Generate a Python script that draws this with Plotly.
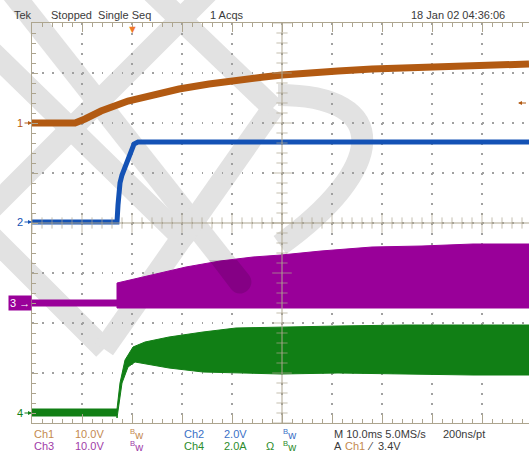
import numpy as np
import plotly.graph_objects as go

# ── Waveform data (x in divisions from left edge, y in divisions from centre) ──
CH1_X = [0, 0.86, 1.06, 1.38, 1.92, 2.40, 2.94, 3.54, 4.08, 4.64, 5.00, 5.44, 6.12, 6.80, 7.46, 8.14, 8.82, 9.94]
CH1_Y = [2.00, 2.00, 2.08, 2.24, 2.44, 2.56, 2.68, 2.78, 2.86, 2.92, 2.96, 2.98, 3.04, 3.08, 3.10, 3.14, 3.16, 3.18]

CH2_X = [0, 1.70, 1.72, 1.76, 1.80, 1.88, 1.96, 2.04, 2.12, 9.94]
CH2_Y = [0.02, 0.02, 0.36, 0.80, 0.96, 1.16, 1.42, 1.58, 1.62, 1.62]

CH3_TOP_X = [0, 1.70, 1.70, 2.40, 3.08, 3.76, 4.42, 4.98, 5.78, 6.80, 7.80, 8.82, 9.94]
CH3_TOP_Y = [-1.54, -1.54, -1.20, -1.04, -0.88, -0.76, -0.68, -0.64, -0.56, -0.48, -0.46, -0.42, -0.42]
CH3_BOT_X = [0, 1.70, 1.70, 9.94]
CH3_BOT_Y = [-1.66, -1.66, -1.70, -1.70]

CH4_TOP_X = [0, 1.70, 1.70, 1.76, 1.86, 2.02, 2.26, 2.74, 3.42, 4.08, 4.98, 6.12, 7.46, 9.94]
CH4_TOP_Y = [-3.72, -3.72, -3.72, -3.20, -2.74, -2.48, -2.38, -2.28, -2.18, -2.10, -2.08, -2.06, -2.04, -2.04]
CH4_BOT_X = [0, 1.70, 1.70, 1.80, 1.92, 2.06, 2.40, 2.74, 3.42, 4.08, 4.98, 6.12, 7.46, 8.82, 9.94]
CH4_BOT_Y = [-3.86, -3.86, -3.90, -3.20, -2.88, -2.78, -2.84, -2.90, -2.98, -3.00, -3.02, -3.00, -3.02, -3.04, -3.04]

CH_LEVELS = {"1": 2.0, "2": 0.02, "3": -1.6, "4": -3.8}
TRIG_X = 2.0
TRIG_LEVEL = 2.4

COLORS = {
    "ch1": "#B25A12", "ch2": "#1452B5", "ch3": "#990099", "ch4": "#117F15",
    "ch1_txt": "#C48A50", "ch2_txt": "#3A6FC6", "ch3_txt": "#A03CA8", "ch4_txt": "#2C8C2C",
    "grat": "#ADA58F", "grid": "#A0A0A0", "text": "#3A3A3A", "trig": "#F07828",
    "wm": "#E2E2E2", "wm_dark": "rgba(0,0,0,0.13)",
}
FONT = "Liberation Sans Narrow, Liberation Sans, Arial, sans-serif"

W, H = 529, 459
L, T, B = 32, 23, 36
PW, PH = W - L, H - T - B


def pp(px, py):
    """pixel -> paper coords"""
    return (px - L) / PW, (H - B - py) / PH


fig = go.Figure()

# ── Traces ──
fig.add_trace(go.Scatter(x=CH1_X, y=CH1_Y, mode="lines",
                         line=dict(color=COLORS["ch1"], width=7), hoverinfo="skip"))
fig.add_trace(go.Scatter(x=CH2_X, y=CH2_Y, mode="lines",
                         line=dict(color=COLORS["ch2"], width=5), hoverinfo="skip"))
for tx, ty, bx, by, c in [(CH3_TOP_X, CH3_TOP_Y, CH3_BOT_X, CH3_BOT_Y, COLORS["ch3"]),
                          (CH4_TOP_X, CH4_TOP_Y, CH4_BOT_X, CH4_BOT_Y, COLORS["ch4"])]:
    fig.add_trace(go.Scatter(x=tx + bx[::-1], y=ty + by[::-1], mode="lines",
                             fill="toself", fillcolor=c,
                             line=dict(color=c, width=1), hoverinfo="skip"))

# ── Centre cross ticks ──
xs = np.round(np.arange(0, 9.95, 0.2), 2)
ys = np.round(np.arange(-4, 4.01, 0.2), 2)
fig.add_trace(go.Scatter(
    x=xs, y=[0] * len(xs), mode="markers", hoverinfo="skip",
    marker=dict(symbol="line-ns", size=[14 if abs(v - round(v)) < 1e-6 else 8 for v in xs],
                line=dict(color=COLORS["grat"], width=1))))
fig.add_trace(go.Scatter(
    x=[5] * len(ys), y=ys, mode="markers", hoverinfo="skip",
    marker=dict(symbol="line-ew", size=[14 if abs(v - round(v)) < 1e-6 else 8 for v in ys],
                line=dict(color=COLORS["grat"], width=1))))

shapes = [
    dict(type="line", xref="x", yref="paper", x0=5, x1=5, y0=0, y1=1,
         line=dict(color=COLORS["grat"], width=1), layer="above"),
    dict(type="line", xref="paper", yref="y", x0=0, x1=1, y0=0, y1=0,
         line=dict(color=COLORS["grat"], width=1), layer="above"),
]

# ── Watermark (light gray bands) ──
wm = [
    [(10, -10), (240, 282)],
    [(210, -10), (-10, 210)],
    [(-20, 225), (104, 349)],
    [(104, 349), (273, 108)],
    [(150, -10), (273, 108)],
    [(-10, 50), (190, 245)],
]
for seg in wm:
    (x0, y0), (x1, y1) = pp(*seg[0]), pp(*seg[1])
    shapes.append(dict(type="line", xref="paper", yref="paper", x0=x0, y0=y0, x1=x1, y1=y1,
                       line=dict(color=COLORS["wm"], width=22), layer="below"))


def path(pts, cmd):
    out = []
    for c, p in zip(cmd, pts):
        x, y = pp(*p)
        out.append(f"{c} {x},{y}" if c else f"{x},{y}")
    return " ".join(out)


shapes.append(dict(type="path", xref="paper", yref="paper",
                   path=path([(278, 95), (395, 95), (385, 170), (280, 245)], ["M", "C", "", ""]),
                   line=dict(color=COLORS["wm"], width=22), layer="below"))

# darker rounded end of the watermark band where it crosses the purple trace
shapes.append(dict(type="path", xref="paper", yref="paper",
                   path=path([(209, 260), (237, 260), (249, 275), (258, 287), (240, 301), (231, 289)],
                             ["M", "L", "L", "C", "", ""]) + " Z",
                   fillcolor=COLORS["wm_dark"], line=dict(width=0), layer="above"))

# ── Annotations ──
ann = []


def txt(px, py, s, color=COLORS["text"], size=11, anchor="left"):
    x, y = pp(px, py)
    ann.append(dict(xref="paper", yref="paper", x=x, y=y, text=s, showarrow=False,
                    xanchor=anchor, yanchor="middle", font=dict(family=FONT, size=size, color=color)))


txt(12, 15, "Tek")
txt(49, 15, "Stopped  Single Seq")
txt(208, 15, "1 Acqs")
txt(409, 15, "18 Jan 02 04:36:06")

BW = "<sup>B</sup>w"
txt(32, 434, "Ch1", COLORS["ch1_txt"])
txt(73, 434, "10.0V", COLORS["ch1_txt"])
txt(128, 434, BW, COLORS["ch1_txt"])
txt(182, 434, "Ch2", COLORS["ch2_txt"])
txt(222, 434, "2.0V", COLORS["ch2_txt"])
txt(281, 434, BW, COLORS["ch2_txt"])
txt(332, 434, "M 10.0ms 5.0MS/s")
txt(441, 434, "200ns/pt")
txt(32, 446, "Ch3", COLORS["ch3_txt"])
txt(73, 446, "10.0V", COLORS["ch3_txt"])
txt(128, 446, BW, COLORS["ch3_txt"])
txt(182, 446, "Ch4", COLORS["ch4_txt"])
txt(222, 446, "2.0A", COLORS["ch4_txt"])
txt(264, 446, "Ω", COLORS["ch4_txt"])
txt(281, 446, BW, COLORS["ch4_txt"])
txt(332, 446, "A")
txt(343, 446, "Ch1", COLORS["ch1_txt"])
txt(365, 446, "⁄")
txt(376, 446, "3.4V")

for name, lvl in CH_LEVELS.items():
    c = COLORS["ch" + name]
    if name == "3":
        ann.append(dict(x=0, y=lvl, xref="x", yref="y", text="3 →", showarrow=False,
                        xanchor="right", yanchor="middle", bgcolor=c, borderpad=1,
                        font=dict(family=FONT, size=11, color="white")))
    else:
        ann.append(dict(x=0, y=lvl, xref="x", yref="y", text=name, showarrow=True,
                        ax=-12, ay=0, arrowhead=2, arrowsize=0.8, arrowwidth=1,
                        arrowcolor=c, standoff=0,
                        font=dict(family=FONT, size=11, color=c)))

ann.append(dict(x=TRIG_X, y=1, xref="x", yref="paper", text="▼", showarrow=False,
                yanchor="top", yshift=4, font=dict(size=11, color=COLORS["trig"])))
ann.append(dict(x=9.72, y=TRIG_LEVEL, xref="x", yref="y", text=" ", showarrow=True,
                ax=14, ay=0, arrowhead=2, arrowsize=0.8, arrowwidth=1,
                arrowcolor=COLORS["ch1"], standoff=0))

axis_common = dict(
    showline=True, linecolor=COLORS["grat"], linewidth=1,
    ticks="inside", tickcolor=COLORS["grat"], showticklabels=False,
    showgrid=True, gridcolor=COLORS["grid"], griddash="1.5px,8.5px", gridwidth=1.5,
    zeroline=False, fixedrange=True,
)
fig.update_layout(
    width=W, height=H,
    margin=dict(l=L, r=0, t=T, b=B, autoexpand=False),
    paper_bgcolor="white", plot_bgcolor="rgba(0,0,0,0)",
    showlegend=False,
    xaxis=dict(range=[0, PW / 50], dtick=1, tick0=0, ticklen=9, mirror="ticks",
               minor=dict(dtick=0.2, tick0=0, ticks="inside", ticklen=4, tickcolor=COLORS["grat"]),
               **axis_common),
    yaxis=dict(range=[-4, 4], dtick=1, tick0=0, ticklen=6, mirror=False,
               minor=dict(dtick=0.2, tick0=0, ticks="inside", ticklen=4, tickcolor=COLORS["grat"]),
               **axis_common),
    shapes=shapes,
    annotations=ann,
)

fig.write_html("out.html", config={"displayModeBar": False},
               post_script="document.body.style.margin='0';document.body.style.padding='0';")
